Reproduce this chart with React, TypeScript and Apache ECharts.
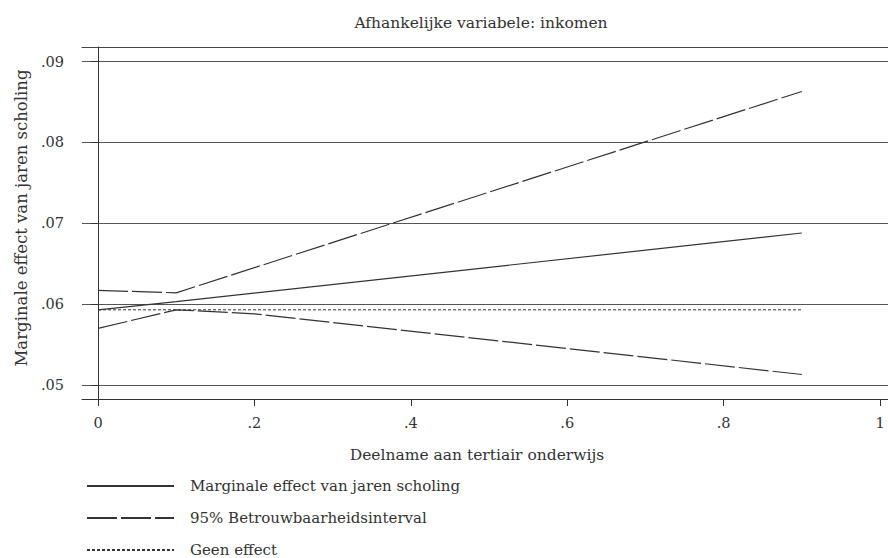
import React, { useEffect, useRef } from "react";
import * as echarts from "echarts";

const titleText = "Afhankelijke variabele: inkomen";
const xAxisName = "Deelname aan tertiair onderwijs";
const yAxisName = "Marginale effect van jaren scholing";

const nameMarginal = "Marginale effect van jaren scholing";
const nameCI = "95% Betrouwbaarheidsinterval";
const nameNone = "Geen effect";

const xTicks = [0, 0.2, 0.4, 0.6, 0.8, 1];
const yTicks = [0.05, 0.06, 0.07, 0.08, 0.09];

const xMarginal = [0, 0.1, 0.9];
const marginal = [0.0593, 0.0603, 0.0688];

const xUpper = [0, 0.1, 0.9];
const upper = [0.0617, 0.0614, 0.0863];

const xLower = [0, 0.1, 0.2, 0.9];
const lower = [0.057, 0.0593, 0.0588, 0.0513];

const xNone = [0, 0.9];
const noEffect = [0.0593, 0.0593];

const zip = (xs: number[], ys: number[]) => xs.map((x, i) => [x, ys[i]]);

const FONT = "'DejaVu Serif', serif";
const INK = "#333";
const X_MIN = -0.0205;
const X_MAX = 1.0102;

export default function App() {
  const ref = useRef<HTMLDivElement>(null);
  useEffect(() => {
    if (!ref.current) return;
    const chart = echarts.init(ref.current, undefined, { renderer: "svg" });
    const lineBase = { type: "line", showSymbol: false, symbol: "none", silent: true };
    chart.setOption({
      animation: false,
      backgroundColor: "#fff",
      textStyle: { fontFamily: FONT, color: INK },
      title: {
        text: titleText,
        left: 476,
        top: 10,
        textAlign: "center",
        textStyle: { fontFamily: FONT, fontSize: 15.5, fontWeight: "normal", color: INK },
      },
      grid: { left: 82, top: 47, right: 0, bottom: 159, show: false },
      legend: {
        orient: "vertical",
        left: 86,
        top: 478,
        height: 100,
        padding: 0,
        itemWidth: 87,
        itemHeight: 16,
        itemGap: 16,
        data: [nameMarginal, nameCI, nameNone],
        itemStyle: { opacity: 0 },
        textStyle: { fontFamily: FONT, fontSize: 15, color: INK, padding: [0, 0, 0, 11], lineHeight: 16 },
        selectedMode: false,
      },
      xAxis: [
        {
          type: "value",
          min: X_MIN,
          max: X_MAX,
          name: xAxisName,
          nameLocation: "middle",
          nameGap: 48,
          nameTextStyle: { fontFamily: FONT, fontSize: 15.5, color: INK, padding: [0, 16, 0, 0] },
          axisLine: { show: true, lineStyle: { color: "#333", width: 1 } },
          axisTick: { show: true, length: 7, customValues: xTicks, lineStyle: { color: "#333" } },
          axisLabel: {
            customValues: xTicks,
            margin: 16,
            fontFamily: FONT,
            fontSize: 14.5,
            color: INK,
            formatter: (v: number) => (v === 0 ? "0" : v === 1 ? "1" : v.toFixed(1).replace(/^0\./, ".")),
          },
          splitLine: { show: false },
        },
        {
          type: "value",
          position: "top",
          min: X_MIN,
          max: X_MAX,
          axisLine: { show: true, lineStyle: { color: "#444", width: 1 } },
          axisTick: { show: false },
          axisLabel: { show: false },
          splitLine: { show: false },
        },
      ],
      yAxis: {
        type: "value",
        min: 0.04827,
        max: 0.0918,
        name: yAxisName,
        nameLocation: "middle",
        nameGap: 52,
        nameTextStyle: { fontFamily: FONT, fontSize: 16.5, color: INK, padding: [0, 0, 0, 10] },
        axisLine: { show: true, lineStyle: { color: "#333", width: 1 } },
        axisTick: { show: true, length: 7, customValues: yTicks, lineStyle: { color: "#333" } },
        axisLabel: {
          customValues: yTicks,
          margin: 18,
          fontFamily: FONT,
          fontSize: 14.5,
          color: INK,
          formatter: (v: number) => v.toFixed(2).replace(/^0\./, "."),
        },
        splitLine: { show: true, lineStyle: { color: "#555", width: 1.2 } },
      },
      series: [
        {
          ...lineBase,
          name: nameMarginal,
          data: zip(xMarginal, marginal),
          lineStyle: { color: INK, width: 1.2, type: "solid" },
          itemStyle: { color: INK },
        },
        {
          ...lineBase,
          name: nameCI,
          data: zip(xUpper, upper),
          lineStyle: { color: INK, width: 1.2, type: [30, 4] },
          itemStyle: { color: INK },
        },
        {
          ...lineBase,
          name: nameCI,
          data: zip(xLower, lower),
          lineStyle: { color: INK, width: 1.2, type: [30, 4] },
          itemStyle: { color: INK },
        },
        {
          ...lineBase,
          name: nameNone,
          data: zip(xNone, noEffect),
          lineStyle: { color: INK, width: 1, type: [3, 2] },
          itemStyle: { color: INK },
        },
      ],
    });
    return () => chart.dispose();
  }, []);
  return <div ref={ref} style={{ position: "fixed", left: 0, top: 0, width: 888, height: 558 }} />;
}
